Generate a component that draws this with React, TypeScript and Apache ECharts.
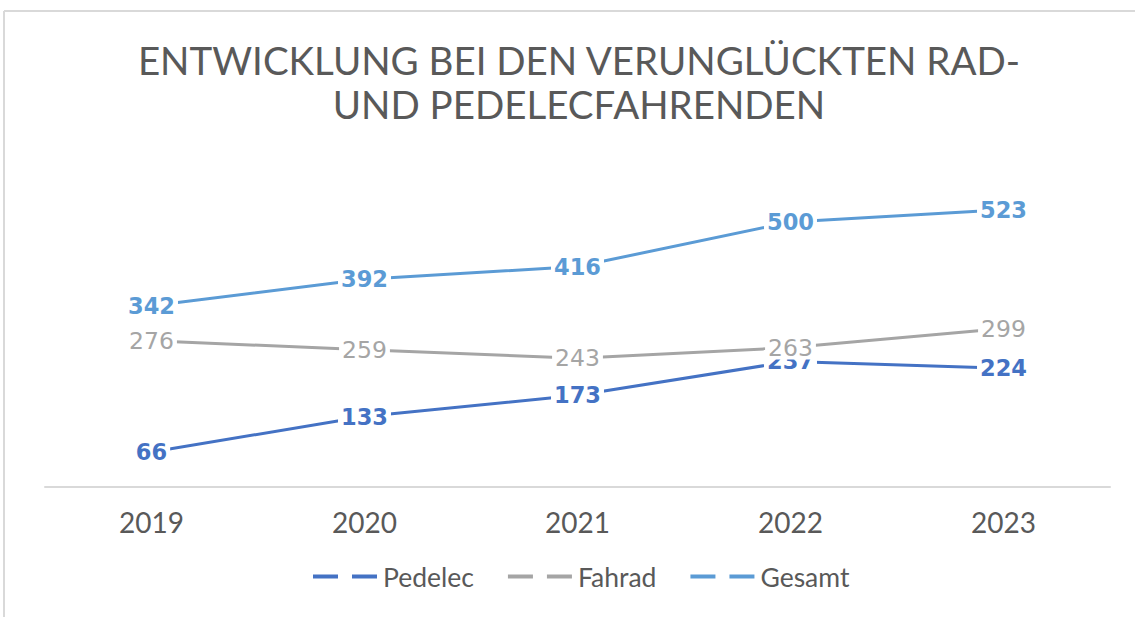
import React, { useEffect, useRef } from "react";
import * as echarts from "echarts";

const years = ["2019", "2020", "2021", "2022", "2023"];
const pedelec = [66, 133, 173, 237, 224];
const fahrad = [276, 259, 243, 263, 299];
const gesamt = [342, 392, 416, 500, 523];
const titleText = "ENTWICKLUNG BEI DEN VERUNGLÜCKTEN RAD-\nUND PEDELECFAHRENDEN";

const BLUE = "#4472C4";
const GRAY = "#A5A5A5";
const LIGHT = "#5B9BD5";
const TXT = "#595959";

function mkSeries(name: string, data: number[], color: string, bold: boolean) {
  return {
    name,
    type: "line",
    data,
    symbol: "circle",
    symbolSize: 0,
    showSymbol: true,
    lineStyle: { color, width: 3, cap: "round" },
    itemStyle: { color },
    label: {
      show: true,
      position: "inside",
      color,
      fontFamily: "DejaVu Sans",
      fontSize: bold ? 22.5 : 23.5,
      fontWeight: bold ? "bold" : "normal",
      backgroundColor: "#ffffff",
      padding: [0, 3, 0, 3],
    },
  };
}

export default function App() {
  const ref = useRef<HTMLDivElement>(null);
  useEffect(() => {
    const chart = echarts.init(ref.current!, null, { renderer: "svg" });
    chart.setOption({
      animation: false,
      backgroundColor: "#ffffff",
      title: {
        text: titleText,
        left: 574,
        textAlign: "center",
        top: 33,
        textStyle: {
          fontFamily: "Lato",
          fontWeight: "normal",
          fontSize: 38.5,
          lineHeight: 44,
          color: TXT,
        },
      },
      graphic: [
        { type: "line", shape: { x1: 4, y1: 11, x2: 1135, y2: 11 }, style: { stroke: "#d9d9d9", lineWidth: 2 } },
        { type: "line", shape: { x1: 4, y1: 11, x2: 4, y2: 617 }, style: { stroke: "#d9d9d9", lineWidth: 2 } },
      ],
      grid: { left: 45, right: 25, top: 169, bottom: 130 },
      xAxis: {
        type: "category",
        data: years,
        boundaryGap: true,
        axisLine: { lineStyle: { color: "#d9d9d9", width: 2 } },
        axisTick: { show: false },
        axisLabel: { color: TXT, fontFamily: "Lato", fontSize: 28, margin: 21 },
      },
      yAxis: { type: "value", min: 0, max: 600, show: false, splitLine: { show: false } },
      legend: {
        bottom: 22,
        left: 308,
        icon: "path://M0 0H25V4H0ZM39 0H64V4H39Z",
        itemWidth: 64,
        itemHeight: 4,
        itemGap: 34,
        textStyle: { color: TXT, fontFamily: "Lato", fontSize: 26.5, padding: [0, 0, 0, 1] },
      },
      series: [
        mkSeries("Pedelec", pedelec, BLUE, true),
        mkSeries("Fahrad", fahrad, GRAY, false),
        mkSeries("Gesamt", gesamt, LIGHT, true),
      ],
    });
    return () => chart.dispose();
  }, []);
  return (
    <div
      ref={ref}
      style={{ position: "absolute", left: 0, top: 0, width: 1135, height: 617 }}
    />
  );
}
